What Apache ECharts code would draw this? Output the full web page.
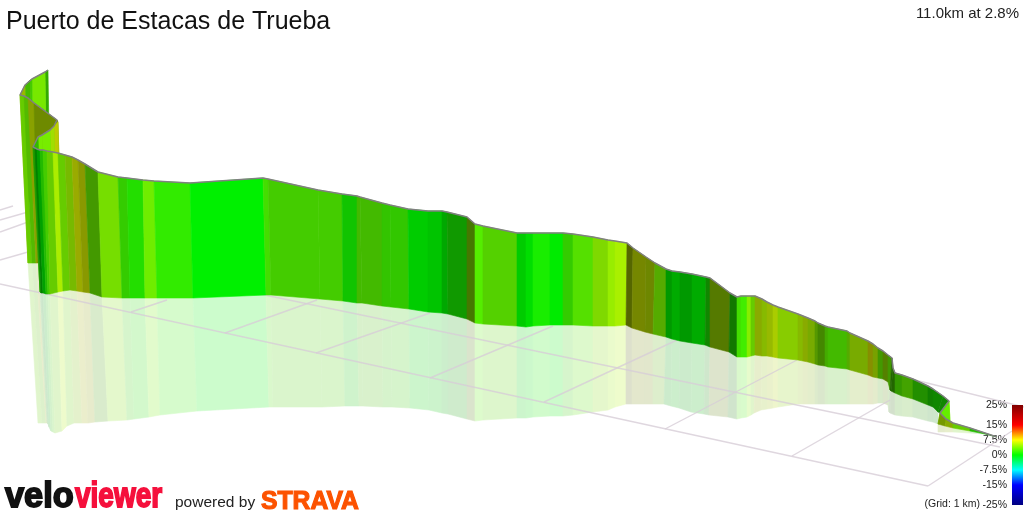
<!DOCTYPE html>
<html>
<head>
<meta charset="utf-8">
<title>Puerto de Estacas de Trueba</title>
<style>
  html, body { margin: 0; padding: 0; background: #fff; }
  #chart { width: 1024px; height: 512px; }
</style>
<script src="https://cdn.jsdelivr.net/npm/echarts@6/dist/echarts.min.js"></script>
</head>
<body>
<div id="chart"></div>
<script>
// projected ribbon, one entry per station, in ride order (back to front)
const topX = [48,45,32,30,25,20,24,28,34,57, 58,54,50,42,38,35,
  33,35,37,40,43,47,53,58,65,72,78,85,98,118,127,143,154,190,263,268,318,342,357,360,
  382,390,408,428,442,447,467,475,483,517,526,533,550,563,573,593,608,615,627,633,646,655,666,672,680,692,706,710,730,737,
  741,747,751,755,762,767,773,778,798,803,808,815,818,825,828,847,850,868,873,878,883,888,892,893,895,902,913,928,933,943,
  949,949,940,946,953,970,985,997];
const topY = [70,72,79,80,85,95,96,98,103,120, 122,126,130,135,137,143,
  147,148,149,150,150,151,152,153,155,157,160,164,172,177,178,180,181,183,178,179,190,194,196,197,
  203,205,209,211,211,212,217,224,226,233,233,233,233,233,234,237,240,241,243,248,257,263,269,271,272,274,277,278,293,297,
  296,296,296,296,299,302,305,307,314,316,318,321,323,326,327,331,333,341,344,348,351,355,358,368,373,375,379,386,389,396,
  401,401,413,419,423,428,433,437];
const baseX = [50,47,33,31,26,28,32,36,38,38, 60,56,52,44,40,38,
  40,41,43,46,48,50,58,63,70,77,83,90,102,122,130,145,157,193,266,271,320,343,357,362,
  382,391,409,428,442,448,467,475,483,517,526,533,550,563,573,593,608,615,626,632,645,653,666,672,680,692,705,710,729,737,
  741,747,751,755,762,767,773,778,798,803,808,815,818,825,828,847,850,868,873,878,883,888,890,891,895,902,913,928,933,938,
  940,950,938,945,953,970,985,997];
const baseY = [200,200,200,200,200,263,263,263,263,263, 200,200,200,200,200,250,
  292,293,293,294,294,294,292,291,290,291,292,293,297,298,298,298,298,298,295,295,299,301,303,303,
  306,307,309,312,313,314,319,323,324,326,327,326,325,325,325,326,326,326,325,328,332,334,337,339,341,343,345,347,352,357,
  357,357,356,355,356,356,357,358,360,361,362,364,365,366,367,369,370,375,377,378,379,382,390,391,393,396,399,405,407,412,
  413,422,424,426,428,431,434,437];
// bottom edge of the mirrored wall, null where a station has no visible mirror
const floorX = [null,null,null,null,null,38,42,46,47,null, null,null,null,null,null,null,
  47,48,49,51,53,55,62,67,74,82,88,95,108,127,134,149,160,197,269,273,322,345,359,363,
  383,392,410,429,442,448,467,475,483,517,526,533,550,563,573,593,608,615,626,632,645,653,664,671,679,691,704,709,728,737,
  741,747,751,754,761,767,773,778,798,803,808,815,818,825,828,847,850,868,873,878,883,888,889,890,895,902,913,928,933,938,
  null,null,938,945,953,970,985,997];
const floorY = [null,null,null,null,null,423,423,423,423,null, null,null,null,null,null,null,
  423,424,427,431,432,433,431,426,423,423,423,422,421,420,419,417,415,411,407,407,407,406,406,406,
  407,407,408,410,413,414,419,421,420,418,418,417,416,416,415,412,410,407,404,404,404,404,404,406,408,412,414,415,417,419,
  418,417,415,413,410,409,408,407,404,404,404,404,404,404,404,404,404,404,404,403,403,405,412,413,415,416,417,421,422,424,
  null,null,432,432,432,433,434,437];
// road gradient in % and face lighting of the band after each station
const bandGrade = [2.25,3.85,2.5,2.7,6.1,3.75,3.4,6.4,6,6, 6.9,5.4,3.75,3.75,2,2,
  1.5,0,0,1.4,2.5,3.75,5.4,3.75,4.8,6.75,6.7,3.3,4,1.9,1.2,3.5,1.6,0,2.3,2.5,2.5,0.65,2.7,2.7,
  1.95,1.9,0,0,0,0.8,4.3,2.7,3,0,0,0.8,0,1.9,2.85,4.4,4.8,5.3,6.25,6.5,6.1,3.75,0,0,0,0,0.9,5.2,1.1,2.3,
  2.1,4.3,3.75,6,5.45,6.1,6.25,5,5.45,6,5.25,4.2,3.75,3,2.7,3.75,5.25,7.1,5.6,3.3,5,3.3,2.5,2.5,2.5,3.1,1.8,1,0.9,0.9,
  4.5,3.2,5.8,6,3.75,1.4,0.9];
const bandShade = [0.67,0.91,0.8,0.73,0.73,0.8,0.73,0.63,0.54,0.54, 0.8,0.87,0.93,0.93,0.73,0.73,
  0.6,0.5,0.63,0.73,0.8,0.8,0.93,0.8,0.73,0.67,0.6,0.6,0.87,0.8,0.87,0.93,0.92,0.94,0.87,0.8,0.8,0.77,0.73,0.73,
  0.77,0.78,0.8,0.77,0.66,0.6,0.47,0.93,0.82,0.8,0.87,0.93,0.92,0.8,0.88,0.85,0.93,0.94,0.4,0.53,0.53,0.67,0.6,0.67,0.6,0.67,0.53,0.48,0.47,0.87,
  0.93,0.93,0.8,0.67,0.73,0.73,0.8,0.8,0.73,0.67,0.67,0.6,0.53,0.67,0.73,0.67,0.67,0.56,0.63,0.6,0.5,0.6,0.4,0.4,0.6,0.64,0.56,0.5,0.53,0.53,
  0.95,0.93,0.6,0.67,0.8,0.73,0.6];

// floor grid, 1 km squares
const gridFromX = [0,0,0,0,0,255,131,225,316,430,544,665,792,928,907];
const gridFromY = [210,220,232,260,284,293,312,333,353,378,402,429,456,486,378];
const gridToX = [13,28,28,28,928,1000,167,317,430,553,677,797,890,1012,1024];
const gridToY = [206,212,222,252,486,447,300,300,313,326,340,360,400,431,407];

// gradient colour scale
const scaleGrades = [-25,-15,-7.5,0,7.5,15,25];
const scaleColors = [[0,0,128],[0,0,255],[0,255,255],[0,255,0],[255,255,0],[255,0,0],[128,0,0]];
const scaleTicks = [-25,-15,-7.5,0,7.5,15,25];

const colorOf = (grade, shade) => {
  let k = 0;
  while (k < scaleGrades.length - 2 && grade > scaleGrades[k + 1]) k++;
  const t = (grade - scaleGrades[k]) / (scaleGrades[k + 1] - scaleGrades[k]);
  return scaleColors[k].map((c, j) => (c + (scaleColors[k + 1][j] - c) * t) * shade);
};
const css = (rgb) => "rgb(" + rgb.map(Math.round).join(",") + ")";
// the mirror is the same colour faded towards the white page
const faded = (rgb) => rgb.map((c) => c * 0.2 + 255 * 0.8);

const chart = echarts.init(document.getElementById("chart"));
const bandIndex = bandGrade.map((_, i) => [i]);

// wall band between station i and i+1
const renderWall = (params, api) => {
  const i = api.value(0);
  const fill = css(colorOf(bandGrade[i], bandShade[i]));
  return {
    type: "polygon",
    shape: {
      points: [
        api.coord([topX[i], topY[i]]),
        api.coord([topX[i + 1], topY[i + 1]]),
        api.coord([baseX[i + 1], baseY[i + 1]]),
        api.coord([baseX[i], baseY[i]]),
      ],
    },
    style: { fill: fill, stroke: fill, lineWidth: 0.6 },
  };
};

// same band, mirrored on the floor
const renderMirror = (params, api) => {
  const i = api.value(0);
  if (floorX[i] === null || floorX[i + 1] === null) return null;
  const fill = css(faded(colorOf(bandGrade[i], bandShade[i])));
  return {
    type: "polygon",
    shape: {
      points: [
        api.coord([baseX[i], baseY[i]]),
        api.coord([baseX[i + 1], baseY[i + 1]]),
        api.coord([floorX[i + 1], floorY[i + 1]]),
        api.coord([floorX[i], floorY[i]]),
      ],
    },
    style: { fill: fill, stroke: fill, lineWidth: 0.6 },
  };
};

const renderGrid = (params, api) => {
  const i = api.value(0);
  const a = api.coord([gridFromX[i], gridFromY[i]]);
  const b = api.coord([gridToX[i], gridToY[i]]);
  return {
    type: "line",
    shape: { x1: a[0], y1: a[1], x2: b[0], y2: b[1] },
    style: { stroke: "rgba(215,205,215,0.8)", lineWidth: 1.4 },
  };
};

const renderScale = (params, api) => {
  const a = api.coord([0, scaleGrades[scaleGrades.length - 1]]);
  const b = api.coord([1, scaleGrades[0]]);
  const span = scaleGrades[scaleGrades.length - 1] - scaleGrades[0];
  return {
    type: "rect",
    shape: { x: a[0], y: a[1], width: b[0] - a[0], height: b[1] - a[1] },
    style: {
      fill: new echarts.graphic.LinearGradient(0, 1, 0, 0,
        scaleGrades.map((g, k) => ({ offset: (g - scaleGrades[0]) / span, color: css(scaleColors[k]) }))),
    },
  };
};

const FONT = '"Liberation Sans", Arial, sans-serif';

chart.setOption({
  animation: false,
  backgroundColor: "#fff",
  textStyle: { fontFamily: FONT },
  title: {
    text: "Puerto de Estacas de Trueba",
    left: 6,
    top: 10,
    padding: 0,
    textStyle: { fontFamily: FONT, fontSize: 25, fontWeight: "normal", color: "#111" },
  },
  grid: [
    { left: 0, top: 0, width: 1024, height: 512 },
    { left: 1012, top: 405, width: 11, height: 100 },
  ],
  xAxis: [
    { type: "value", min: 0, max: 1024, show: false },
    { type: "value", gridIndex: 1, min: 0, max: 1, show: false },
  ],
  yAxis: [
    { type: "value", min: 0, max: 512, inverse: true, show: false },
    {
      type: "value",
      gridIndex: 1,
      min: -25,
      max: 25,
      axisLine: { show: false },
      axisTick: { show: false },
      splitLine: { show: false },
      axisLabel: {
        customValues: scaleTicks,
        formatter: (v) => v + "%",
        fontFamily: FONT,
        fontSize: 10.5,
        color: "#222",
        margin: 5,
      },
    },
  ],
  series: [
    { type: "custom", silent: true, clip: false, z: 1, renderItem: renderMirror, data: bandIndex },
    { type: "custom", silent: true, clip: true, z: 2, renderItem: renderGrid, data: gridFromX.map((_, i) => [i]) },
    { type: "custom", silent: true, clip: false, z: 3, renderItem: renderWall, data: bandIndex },
    {
      type: "line",
      silent: true,
      z: 4,
      symbol: "none",
      data: topX.map((x, i) => [x, topY[i]]),
      lineStyle: { color: "#808080", width: 1.5 },
    },
    { type: "custom", silent: true, xAxisIndex: 1, yAxisIndex: 1, z: 4, renderItem: renderScale, data: [[0]] },
  ],
  graphic: [
    { type: "text", right: 5, top: 6, style: { text: "11.0km at 2.8%", font: "15px " + FONT, fill: "#222" } },
    { type: "text", x: 980, y: 499, style: { text: "(Grid: 1 km)", font: "10.5px " + FONT, fill: "#222", textAlign: "right" } },
    { type: "text", x: 5, y: 480, scaleX: 0.98, style: { text: "velo", font: "bold 35px " + FONT, fill: "#111", stroke: "#111", lineWidth: 1.8 } },
    { type: "text", x: 75, y: 480, scaleX: 0.8, style: { text: "viewer", font: "bold 35px " + FONT, fill: "#f5103c", stroke: "#f5103c", lineWidth: 1.8 } },
    { type: "text", x: 175, y: 495, style: { text: "powered by", font: "15.5px " + FONT, fill: "#222" } },
    { type: "text", x: 261, y: 489, scaleX: 0.95, style: { text: "STRAVA", font: "bold 26px " + FONT, fill: "#fc5200", stroke: "#fc5200", lineWidth: 1.2 } },
  ],
});
</script>
</body>
</html>
